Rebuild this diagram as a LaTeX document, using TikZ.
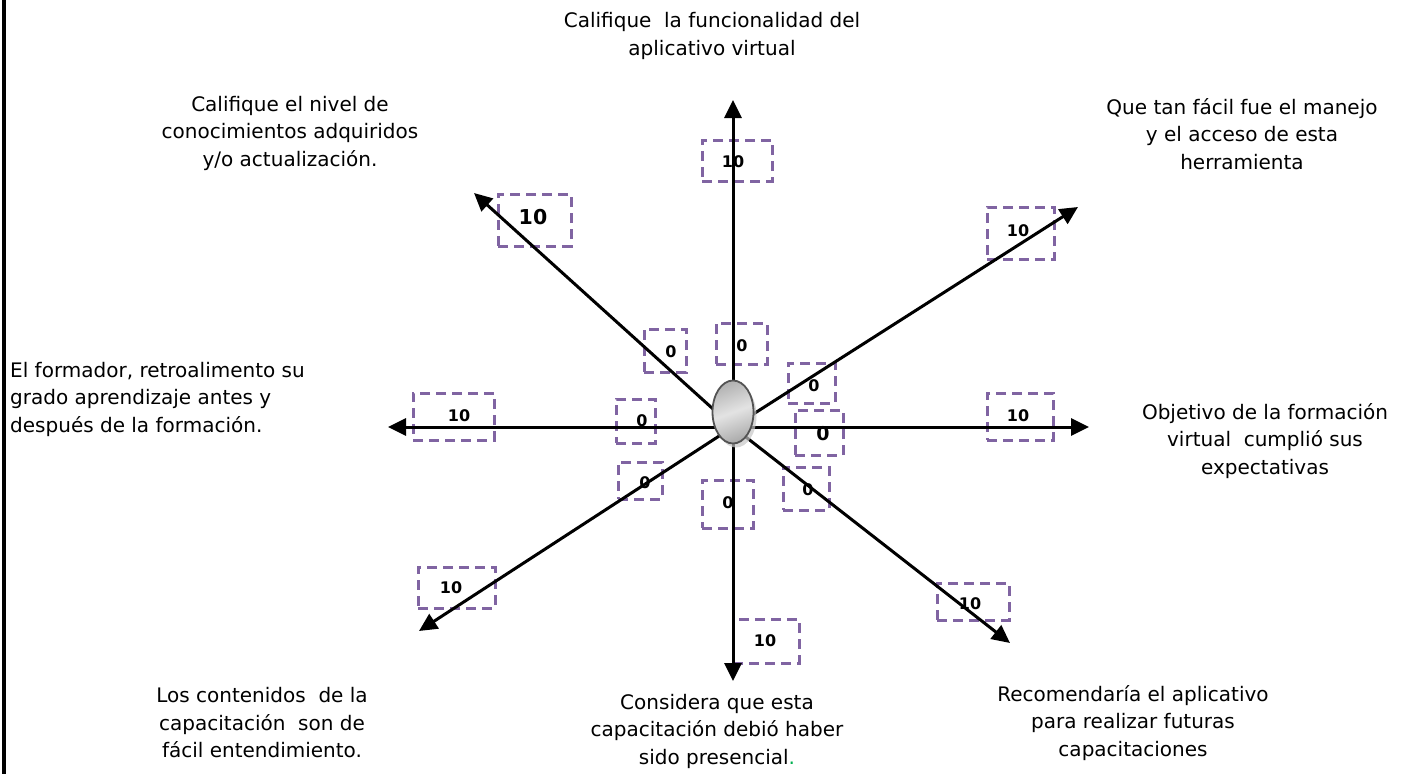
\documentclass[tikz,border=0pt]{standalone}
\usepackage{fontspec}
\setmainfont{DejaVu Sans}
\usetikzlibrary{arrows.meta,shapes.geometric,shadows}
\definecolor{boxpurple}{HTML}{8064A2}
\definecolor{dotgreen}{HTML}{00B050}
\begin{document}
\begin{tikzpicture}[x=1pt,y=-1pt,
  axisarrow/.style={line width=3pt,-{Triangle[length=18pt,width=17pt]}},
  valbox/.style={draw=boxpurple,line width=3pt,dash pattern=on 10pt off 6pt,inner sep=0pt},
  lbl/.style={align=center,font=\fontsize{20}{27.5}\selectfont,inner sep=0pt},
  val/.style={font=\fontsize{16}{19}\selectfont\bfseries,inner sep=0pt},
  bigval/.style={font=\fontsize{20.5}{24}\selectfont\bfseries,inner sep=0pt}]
\useasboundingbox (0,0) rectangle (1421,774);
\draw[line width=3.2pt] (4,0) -- (4,774);

% dashed value boxes
\node[valbox,minimum width=70pt,minimum height=41pt] (bTop10) at (737,160.5) {};
\node[valbox,minimum width=73pt,minimum height=52pt] (bNW10) at (534.5,220) {};
\node[valbox,minimum width=67pt,minimum height=52pt] (bNE10) at (1020.5,233) {};
\node[valbox,minimum width=81pt,minimum height=47pt] (bW10) at (453.5,416.5) {};
\node[valbox,minimum width=66pt,minimum height=47pt] (bE10) at (1020,416.5) {};
\node[valbox,minimum width=77pt,minimum height=41pt] (bSW10) at (456.5,587.5) {};
\node[valbox,minimum width=66pt,minimum height=44pt] (bS10) at (766,641) {};
\node[valbox,minimum width=72pt,minimum height=37pt] (bSE10) at (973,601.5) {};
\node[valbox,minimum width=42pt,minimum height=43pt] (bNW0) at (665,350.5) {};
\node[valbox,minimum width=51pt,minimum height=41pt] (bN0) at (741.5,343.5) {};
\node[valbox,minimum width=47pt,minimum height=40pt] (bNE0) at (811.5,383) {};
\node[valbox,minimum width=48pt,minimum height=45pt] (bE0) at (819,432.5) {};
\node[valbox,minimum width=39pt,minimum height=44pt] (bW0) at (635.5,421) {};
\node[valbox,minimum width=44pt,minimum height=37pt] (bSW0) at (640,480.5) {};
\node[valbox,minimum width=51pt,minimum height=48pt] (bS0) at (727.5,504) {};
\node[valbox,minimum width=46pt,minimum height=43pt] (bSE0) at (806,488.5) {};

% axes
\coordinate (o) at (733,427);
\coordinate (tN) at (733,100);
\coordinate (tS) at (733,681);
\coordinate (tW) at (388,427);
\coordinate (tE) at (1089,427);
\coordinate (tNW) at (474,193);
\coordinate (tNE) at (1078,207);
\coordinate (tSW) at (419,631);
\coordinate (tSE) at (1010,643);
\foreach \t in {tN,tS,tW,tE,tNW,tNE,tSW,tSE} \draw[axisarrow] (o) -- (\t);

% values
\node[val] (vTop10) at (733,162) {10};
\node[bigval] (vNW10) at (533,217) {10};
\node[val] (vNE10) at (1018,231) {10};
\node[val] (vW10) at (459,416) {10};
\node[val] (vE10) at (1018,416) {10};
\node[val] (vSW10) at (451,588) {10};
\node[val] (vS10) at (765,641) {10};
\node[val] (vSE10) at (970,604) {10};
\node[val] (vNW0) at (671,352) {0};
\node[val] (vN0) at (742,346) {0};
\node[val] (vNE0) at (814,386) {0};
\node[font=\fontsize{19}{22}\selectfont\bfseries,inner sep=0pt] (vE0) at (823,434) {0};
\node[val] (vW0) at (642,421) {0};
\node[val] (vSW0) at (645,483) {0};
\node[val] (vS0) at (728,503) {0};
\node[val] (vSE0) at (808,490) {0};

% hub
\node[ellipse,minimum width=41pt,minimum height=63pt,draw=gray!65!black,line width=1.8pt,
  shading=axis,left color=gray!60,right color=gray!65,middle color=gray!22,shading angle=20,
  drop shadow={shadow xshift=3pt,shadow yshift=-4pt,fill=gray!45,opacity=0.7}] (hub) at (733,412) {};

% labels
\node[lbl] (lN) at (712,36) {Califique~ la funcionalidad del\\aplicativo virtual};
\node[lbl] (lNW) at (290,133) {Califique el nivel de\\conocimientos adquiridos\\y/o actualización.};
\node[lbl] (lNE) at (1242,134) {Que tan fácil fue el manejo\\y el acceso de esta\\herramienta};
\node[lbl,align=left,anchor=west] (lW) at (10,399) {El formador, retroalimento su\\grado aprendizaje antes y\\después de la formación.};
\node[lbl] (lE) at (1265,441) {Objetivo de la formación\\virtual~ cumplió sus\\expectativas};
\node[lbl] (lSW) at (262,723) {Los contenidos~ de la\\capacitación~ son de\\fácil entendimiento.};
\node[lbl] (lS) at (717,731) {Considera que esta\\capacitación debió haber\\sido presencial{\color{dotgreen}.}};
\node[lbl] (lSE) at (1133,723) {Recomendaría el aplicativo\\para realizar futuras\\capacitaciones};
\end{tikzpicture}
\end{document}
